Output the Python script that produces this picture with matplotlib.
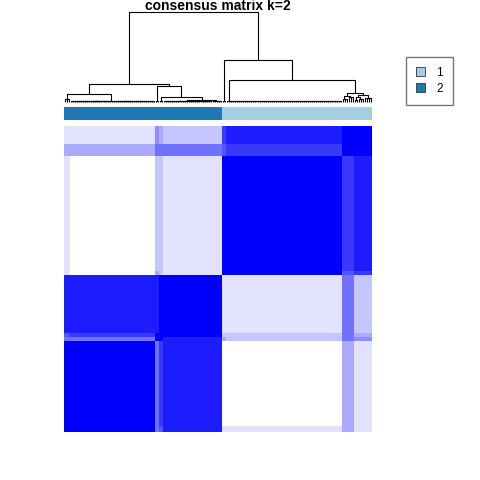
import matplotlib
matplotlib.use("Agg")
import matplotlib.pyplot as plt
import numpy as np
from matplotlib.colors import ListedColormap, BoundaryNorm
from matplotlib.patches import Patch

plt.rcParams["font.family"] = ["Liberation Sans", "DejaVu Sans"]

# sample groups in dendrogram order (left to right)
groups = ["A1", "A2", "B1", "B2", "B3", "C1", "C2", "D1", "D2"]
group_sizes = [3, 42, 2, 2, 29, 2, 57, 6, 9]
group_cluster = [2, 2, 2, 2, 2, 1, 1, 1, 1]

# mean consensus between groups
block_consensus = [
    # A1    A2    B1    B2    B3    C1    C2    D1    D2
    [1.00, 0.92, 0.60, 0.70, 0.85, 0.12, 0.12, 0.35, 0.15],  # A1
    [0.92, 1.00, 0.60, 0.75, 0.85, 0.02, 0.00, 0.35, 0.13],  # A2
    [0.60, 0.60, 1.00, 0.90, 0.85, 0.35, 0.30, 0.55, 0.40],  # B1
    [0.70, 0.75, 0.90, 1.00, 0.92, 0.30, 0.25, 0.55, 0.35],  # B2
    [0.85, 0.85, 0.85, 0.92, 1.00, 0.15, 0.15, 0.50, 0.30],  # B3
    [0.12, 0.02, 0.35, 0.30, 0.15, 1.00, 0.95, 0.70, 0.75],  # C1
    [0.12, 0.00, 0.30, 0.25, 0.15, 0.95, 1.00, 0.75, 0.85],  # C2
    [0.35, 0.35, 0.55, 0.55, 0.50, 0.70, 0.75, 1.00, 0.92],  # D1
    [0.15, 0.13, 0.40, 0.35, 0.30, 0.75, 0.85, 0.92, 1.00],  # D2
]

# dendrogram: (height, left, right); leaf groups: (kind, n_leaves, height)
tree = (1.0,
        (0.19,
         (0.08, ("flat", 3, 0.025), ("flat", 42, 0.01)),
         (0.17, ("flat", 2, 0.01),
          (0.05, ("flat", 2, 0.01),
           (0.02, ("flat", 24, 0.01), ("flat", 5, 0.005))))),
        (0.46,
         ("flat", 2, 0.01),
         (0.24, ("chain", 57, 0.01),
          (0.10,
           (0.065, ("flat", 3, 0.03), ("flat", 3, 0.045)),
           (0.07, (0.05, ("flat", 2, 0.02), ("flat", 3, 0.03)), ("flat", 4, 0.04))))))

cluster_colors = {1: "#A6CEE3", 2: "#1F78B4"}
title = "consensus matrix k=2"

# ---------------------------------------------------------------
labels = np.repeat(np.arange(len(groups)), group_sizes)
n = len(labels)
B = np.array(block_consensus)
M = B[labels][:, labels]

levels = np.linspace(1, 0, 10)
pal = ListedColormap([(l, l, 1.0) for l in levels])
norm = BoundaryNorm(np.linspace(0, 1, 11), pal.N, clip=True)

W, H = 480, 480
fig = plt.figure(figsize=(W / 100, H / 100), dpi=100)

def px_axes(x0, y0, x1, y1):
    return fig.add_axes([x0 / W, 1 - y1 / H, (x1 - x0) / W, (y1 - y0) / H])

ax_hm = px_axes(64, 126, 372, 432)
ax_hm.imshow(M, cmap=pal, norm=norm, origin="lower", aspect="auto",
             interpolation="nearest", extent=(-0.5, n - 0.5, -0.5, n - 0.5))
ax_hm.axis("off")

ax_bar = px_axes(64, 107, 372, 120)
clus = np.repeat(group_cluster, group_sizes)
rgb = np.array([matplotlib.colors.to_rgb(cluster_colors[c]) for c in clus])[None, :, :]
ax_bar.imshow(rgb, aspect="auto", interpolation="nearest", extent=(-0.5, n - 0.5, 0, 1))
ax_bar.axis("off")

ax_den = px_axes(64, 12, 372, 101.5)
ax_den.set_xlim(-0.5, n - 0.5)
ax_den.set_ylim(0, 1)
ax_den.axis("off")

counter = [0]

def expand(node):
    if isinstance(node[0], str):
        kind, k, h = node
        leaves = list(range(counter[0], counter[0] + k))
        counter[0] += k
        def balanced(ls):
            if len(ls) == 1:
                return ls[0]
            mid = len(ls) // 2
            return (h, balanced(ls[:mid]), balanced(ls[mid:]))
        def chain(ls):
            if len(ls) == 1:
                return ls[0]
            return (h, ls[0], chain(ls[1:]))
        return balanced(leaves) if kind == "flat" else chain(leaves)
    h, l, r = node
    return (h, expand(l), expand(r))

def draw(node):
    if not isinstance(node, tuple):
        return float(node), 0.0
    h, l, r = node
    xl, hl = draw(l)
    xr, hr = draw(r)
    kw = dict(color="black", lw=0.8, clip_on=False, solid_capstyle="butt")
    ax_den.plot([xl, xl, xr, xr], [hl, h, h, hr], **kw)
    return (xl + xr) / 2, h

draw(expand(tree))

fig.text(218 / W, 1 - 10 / H, title, ha="center", va="baseline",
         fontsize=10, fontweight="bold")

handles = [Patch(facecolor=cluster_colors[c], edgecolor="#333333", lw=0.6) for c in (1, 2)]
fig.legend(handles, ["1", "2"], loc="upper left", bbox_to_anchor=(406 / W, 1 - 57 / H),
           borderaxespad=0, frameon=True, fancybox=False, edgecolor="#555555",
           fontsize=8.5, handlelength=0.8, handleheight=0.8, handletextpad=0.9,
           labelspacing=0.3, borderpad=0.85)

fig.savefig("out.png", dpi=100)
